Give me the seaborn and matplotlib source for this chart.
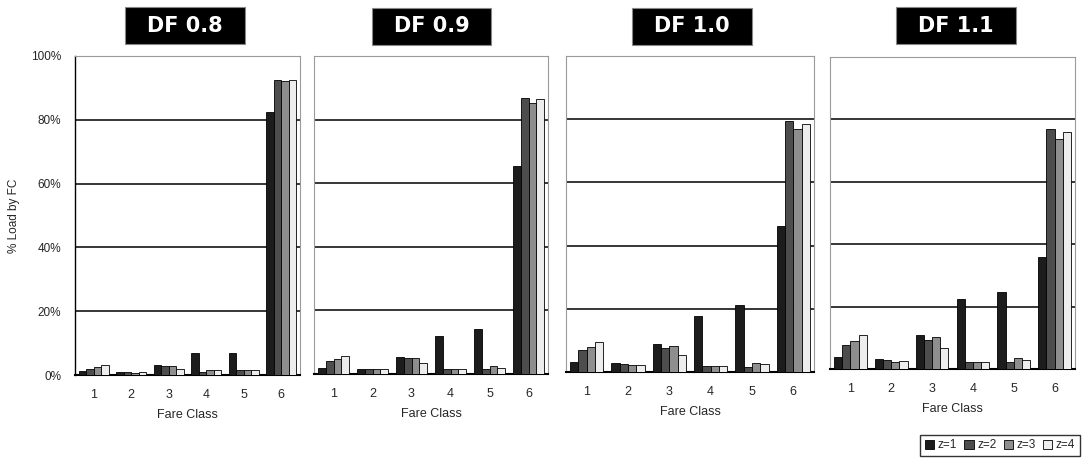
import matplotlib
matplotlib.use("Agg")
import matplotlib.pyplot as plt
import matplotlib.patches as mpatches
import seaborn as sns
import pandas as pd
import numpy as np

# ---------------- data ----------------
fare_classes = ["1", "2", "3", "4", "5", "6"]
z_levels = ["z=1", "z=2", "z=3", "z=4"]
panel_titles = ["DF 0.8", "DF 0.9", "DF 1.0", "DF 1.1"]

# % load by fare class, rows = z level, columns = fare class 1..6
df08_z1 = [1.2, 1.0, 3.0, 7.0, 7.0, 82.4]
df08_z2 = [1.8, 1.0, 2.7, 0.8, 1.5, 92.5]
df08_z3 = [2.6, 0.5, 2.7, 1.5, 1.5, 92.3]
df08_z4 = [3.0, 0.8, 1.8, 1.5, 1.5, 92.6]

df09_z1 = [2.0, 1.6, 5.3, 12.0, 14.2, 65.5]
df09_z2 = [4.2, 1.6, 5.0, 1.5, 1.5, 86.9]
df09_z3 = [4.6, 1.6, 5.0, 1.5, 2.5, 85.1]
df09_z4 = [5.8, 1.6, 3.5, 1.5, 2.0, 86.5]

df10_z1 = [3.3, 2.8, 8.8, 17.7, 21.3, 46.2]
df10_z2 = [6.9, 2.5, 7.5, 1.9, 1.5, 79.5]
df10_z3 = [8.0, 2.1, 8.3, 1.9, 2.8, 77.0]
df10_z4 = [9.4, 2.1, 5.5, 1.9, 2.5, 78.5]

df11_z1 = [3.7, 3.1, 10.9, 22.3, 24.8, 36.0]
df11_z2 = [7.8, 2.8, 9.3, 2.1, 2.1, 76.8]
df11_z3 = [9.0, 2.1, 10.2, 2.1, 3.5, 73.8]
df11_z4 = [10.9, 2.6, 6.7, 2.1, 3.0, 75.9]

panels = [
    [df08_z1, df08_z2, df08_z3, df08_z4],
    [df09_z1, df09_z2, df09_z3, df09_z4],
    [df10_z1, df10_z2, df10_z3, df10_z4],
    [df11_z1, df11_z2, df11_z3, df11_z4],
]

y_ticks = [0, 20, 40, 60, 80, 100]
y_tick_labels = ["0%", "20%", "40%", "60%", "80%", "100%"]

# ---------------- style ----------------
sns.set_theme(style="white")
plt.rcParams["font.family"] = ["Liberation Sans", "DejaVu Sans"]

palette = {"z=1": "#1c1c1c", "z=2": "#4d4d4d", "z=3": "#8e8e8e", "z=4": "#ededed"}

fig = plt.figure(figsize=(10.83, 4.61), dpi=100)
W, H = 1083.0, 461.0

# axes pixel boxes: left, right, top, bottom
boxes = [(75, 300, 56, 375), (314, 548, 56, 374), (566, 814, 56, 372), (830, 1075, 57, 369)]
title_boxes = [(125, 245, 7, 44), (372, 491, 8, 45), (632, 752, 8, 45), (896, 1016, 7, 44)]

for i, (vals, title) in enumerate(zip(panels, panel_titles)):
    l, r, t, b = boxes[i]
    ax = fig.add_axes([l / W, 1 - b / H, (r - l) / W, (b - t) / H])
    rows = []
    for z, series in zip(z_levels, vals):
        for fc, v in zip(fare_classes, series):
            rows.append({"Fare Class": fc, "z": z, "Load": v})
    df = pd.DataFrame(rows)
    sns.barplot(data=df, x="Fare Class", y="Load", hue="z", hue_order=z_levels,
                order=fare_classes, palette=palette, edgecolor="black",
                linewidth=0.6, width=0.8, ax=ax, legend=False, errorbar=None,
                zorder=3)
    ax.set_ylim(0, 100)
    ax.set_xlim(-0.5, 5.5)
    for g in [20, 40, 60, 80]:
        ax.axhline(g, color="black", lw=1.1, zorder=1)
    ax.set_axisbelow(True)
    ax.set_xlabel("Fare Class", fontsize=9, labelpad=6)
    ax.tick_params(axis="x", length=0, labelsize=9, pad=10)
    ax.set_xticks(range(6))
    ax.set_xticklabels(fare_classes)
    ax.set_xticks(np.arange(0.5, 5.0, 1.0), minor=True)
    ax.tick_params(axis="x", which="minor", length=2.5, width=1, color="black", direction="out")
    if i == 0:
        ax.set_yticks(y_ticks)
        ax.set_yticklabels(y_tick_labels)
        ax.tick_params(axis="y", length=0, labelsize=8.5, pad=10)
        ax.set_ylabel("% Load by FC", fontsize=8.5, labelpad=8)
    else:
        ax.set_yticks([])
        ax.set_ylabel("")
    for side in ["top", "right"]:
        ax.spines[side].set_color("#9a9a9a")
        ax.spines[side].set_linewidth(0.8)
    ax.spines["left"].set_color("black" if i == 0 else "#9a9a9a")
    ax.spines["left"].set_linewidth(1.0 if i == 0 else 0.8)
    ax.spines["bottom"].set_color("black")
    ax.spines["bottom"].set_linewidth(1.5)

    # title box
    tl, tr, tt, tb = title_boxes[i]
    fig.patches.append(mpatches.Rectangle((tl / W, 1 - tb / H), (tr - tl) / W, (tb - tt) / H,
                                          transform=fig.transFigure, facecolor="black",
                                          edgecolor="#888888", lw=0.8, zorder=5))
    fig.text((tl + tr) / 2 / W, 1 - (tt + tb) / 2 / H, title, color="white",
             fontsize=15, fontweight="bold", family="DejaVu Sans",
             ha="center", va="center", zorder=6)

handles = [mpatches.Patch(facecolor=palette[z], edgecolor="black", lw=0.6, label=z) for z in z_levels]
leg = fig.legend(handles=handles, loc="lower right", bbox_to_anchor=(1080 / W, 1 - 456 / H),
                 ncol=4, fontsize=8.5, frameon=True, fancybox=False, handlelength=0.8,
                 handleheight=0.8, handletextpad=0.3, columnspacing=0.6, borderpad=0.4,
                 borderaxespad=0)
leg.get_frame().set_edgecolor("black")
leg.get_frame().set_linewidth(1.0)

fig.savefig("out.png", dpi=100)
